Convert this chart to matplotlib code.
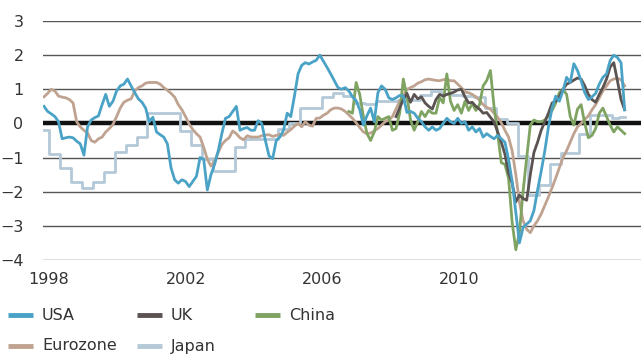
import numpy as np
import matplotlib
matplotlib.use("Agg")
import matplotlib.pyplot as plt
from matplotlib.lines import Line2D

plt.rcParams['font.family'] = ['Liberation Sans Narrow', 'DejaVu Sans']

# Monthly readings, first value = start of 1998
usa = [0.50, 0.35, 0.28, 0.20, 0.05, -0.45, -0.42, -0.40, -0.42, -0.52,
       -0.60, -0.93, -0.10, 0.10, 0.17, 0.22, 0.55, 0.85, 0.50, 0.65,
       0.95, 1.10, 1.15, 1.30, 1.10, 0.90, 0.72, 0.62, 0.45, 0.05,
       0.18, -0.25, -0.33, -0.40, -0.60, -1.30, -1.65, -1.75, -1.65, -1.70,
       -1.85, -1.70, -1.55, -1.00, -1.05, -1.95, -1.50, -1.20, -0.80, -0.30,
       0.15, 0.20, 0.35, 0.50, -0.20, -0.15, -0.12, -0.20, -0.20, 0.08,
       0.00, -0.50, -0.95, -1.03, -0.50, -0.40, -0.20, 0.30, 0.20, 0.80,
       1.45, 1.70, 1.78, 1.74, 1.80, 1.85, 2.00, 1.82, 1.64, 1.45,
       1.25, 1.05, 1.00, 1.05, 0.95, 0.78, 0.67, 0.40, -0.05, 0.23,
       0.45, 0.05, 0.90, 1.10, 1.00, 0.75, 0.70, 0.75, 0.82, 0.80,
       0.32, 0.35, 0.30, 0.15, 0.05, -0.10, -0.20, -0.10, -0.20, -0.15,
       0.00, 0.15, 0.05, 0.00, 0.15, 0.00, 0.05, -0.20, -0.10, -0.25,
       -0.15, -0.40, -0.30, -0.38, -0.45, -0.35, -0.45, -0.55, -1.05, -1.70,
       -2.60, -3.50, -3.05, -2.95, -2.85, -2.55, -1.95, -1.40, -0.80, -0.10,
       0.45, 0.80, 0.65, 0.96, 1.35, 1.20, 1.75, 1.55, 1.25, 0.90,
       0.70, 0.78, 0.88, 1.15, 1.35, 1.45, 1.84, 2.00, 1.93, 1.78,
       0.40]

eurozone = [0.78, 0.88, 1.00, 0.95, 0.80, 0.77, 0.75, 0.70, 0.60, 0.05,
            -0.10, -0.20, -0.28, -0.50, -0.55, -0.45, -0.40, -0.25, -0.15, -0.03,
            0.20, 0.45, 0.62, 0.68, 0.72, 0.95, 1.05, 1.10, 1.18, 1.20,
            1.20, 1.20, 1.15, 1.05, 0.97, 0.88, 0.77, 0.55, 0.40, 0.20,
            -0.02, -0.18, -0.30, -0.40, -0.70, -1.05, -1.25, -1.10, -0.85, -0.62,
            -0.50, -0.42, -0.22, -0.30, -0.42, -0.48, -0.36, -0.40, -0.40, -0.40,
            -0.36, -0.34, -0.33, -0.38, -0.35, -0.32, -0.35, -0.26, -0.18, -0.08,
            0.00, -0.10, 0.05, -0.05, -0.08, 0.15, 0.16, 0.24, 0.30, 0.40,
            0.45, 0.45, 0.42, 0.35, 0.25, 0.15, 0.02, -0.12, -0.25, -0.30,
            -0.28, -0.22, -0.15, -0.05, 0.05, 0.10, 0.20, 0.42, 0.65, 0.80,
            1.00, 1.05, 1.10, 1.18, 1.22, 1.28, 1.30, 1.28, 1.26, 1.25,
            1.28, 1.30, 1.25, 1.25, 1.15, 1.05, 0.92, 0.90, 0.85, 0.78,
            0.68, 0.55, 0.47, 0.42, 0.30, 0.18, 0.02, -0.20, -0.40, -0.80,
            -1.50, -2.30, -2.85, -3.10, -3.20, -3.00, -2.85, -2.65, -2.40, -2.15,
            -1.88, -1.60, -1.30, -1.00, -0.80, -0.55, -0.30, -0.10, 0.00, 0.12,
            0.22, 0.40, 0.55, 0.75, 0.95, 1.10, 1.25, 1.30, 1.32, 1.28,
            1.10]

# quarterly survey, held flat over each quarter
japan = [-0.20, -0.20, -0.90, -0.90, -0.90, -1.30, -1.30, -1.30, -1.72, -1.72,
         -1.72, -1.90, -1.90, -1.90, -1.72, -1.72, -1.72, -1.43, -1.43, -1.43,
         -0.85, -0.85, -0.85, -0.62, -0.62, -0.62, -0.40, -0.40, -0.40, 0.30,
         0.30, 0.30, 0.30, 0.30, 0.30, 0.30, 0.30, 0.30, -0.22, -0.22,
         -0.22, -0.62, -0.62, -0.62, -1.05, -1.05, -1.05, -1.40, -1.40, -1.40,
         -1.40, -1.40, -1.40, -0.70, -0.70, -0.70, -0.45, -0.45, -0.45, -0.45,
         -0.45, -0.45, -0.45, -0.45, -0.45, -0.15, -0.15, -0.15, 0.02, 0.02,
         0.02, 0.44, 0.44, 0.44, 0.44, 0.44, 0.44, 0.76, 0.76, 0.76,
         0.88, 0.88, 0.88, 0.80, 0.80, 0.80, 0.60, 0.60, 0.60, 0.58,
         0.58, 0.58, 0.67, 0.67, 0.67, 0.67, 0.67, 0.67, 0.70, 0.70,
         0.70, 0.70, 0.70, 0.70, 0.82, 0.82, 0.82, 0.95, 0.95, 0.95,
         0.85, 0.85, 0.85, 0.82, 0.82, 0.82, 0.80, 0.80, 0.80, 0.76,
         0.76, 0.76, 0.45, 0.45, 0.45, 0.12, 0.12, 0.12, 0.00, 0.00,
         0.00, -0.95, -0.95, -0.95, -2.10, -2.10, -2.10, -1.80, -1.80, -1.80,
         -1.20, -1.20, -1.20, -0.88, -0.88, -0.88, -0.88, -0.88, -0.30, -0.30,
         -0.30, 0.25, 0.25, 0.25, 0.25, 0.25, 0.25, 0.15, 0.15, 0.20,
         0.20]

# UK and China series begin later (month offsets from Jan 1998)
uk_start = 97
uk = [0.20, 0.45, 0.70,
      0.88, 0.62, 0.85, 0.72, 0.78, 0.60, 0.50, 0.42, 0.70, 0.85,
      0.80, 0.85, 0.88, 0.92, 0.98, 1.00, 0.78, 0.60, 0.62, 0.50,
      0.42, 0.30, 0.32, 0.18, 0.05, -0.25, -0.55, -0.90, -1.45, -1.75,
      -2.30, -2.10, -2.20, -2.25, -1.50, -0.85, -0.55, -0.20, 0.05, 0.30,
      0.60, 0.65, 0.78, 1.00, 1.15, 1.20, 1.27, 1.33, 1.30, 1.10,
      0.85, 0.70, 0.62, 0.85, 1.05, 1.30, 1.65, 1.78, 1.25, 0.70,
      0.40]

china_start = 84
china = [0.35, 0.30, 1.20, 0.85, 0.20, -0.30,
         -0.50, -0.25, 0.20, 0.10, 0.15, 0.20, -0.20, -0.15, 0.30, 1.30,
         0.80, 0.10, -0.20, 0.05, 0.35, 0.20, 0.38, 0.30, 0.30, 0.76,
         0.60, 1.45, 0.65, 0.38, 0.55, 0.30, 0.65, 0.38, 0.58, 0.38,
         0.55, 1.10, 1.26, 1.55, 0.50, -0.30, -1.15, -1.20, -1.60, -2.90,
         -3.70, -3.20, -2.00, -1.00, -0.05, 0.10, 0.05, 0.05, 0.10, 0.22,
         0.38, 0.60, 0.90, 1.00, 0.85, 0.20, -0.05, 0.42, 0.55, 0.00,
         -0.42, -0.35, -0.15, 0.30, 0.45, 0.20, -0.05, -0.25, -0.10, -0.20,
         -0.30]

year_labels = ['1998', '2002', '2006', '2010']
year_pos = [1.4, 39.1, 76.6, 114.3]

names = ['USA', 'UK', 'China', 'Eurozone', 'Japan']
colors = {'USA': '#4aa3c6', 'UK': '#5b5351', 'China': '#7fa462',
          'Eurozone': '#bfa390', 'Japan': '#b4c9d7'}

fig = plt.figure(figsize=(6.41, 3.54), dpi=100)
ax = fig.add_axes([43 / 641, 94 / 354, 598 / 641, 239 / 354])

# horizontal grid
for v in range(-4, 4):
    if v == 0:
        continue
    ax.axhline(v, color='#555555', lw=1.0, zorder=1)
ax.axhline(0, color='#111111', lw=3.2, zorder=2)

lw = 2.0
ax.plot(np.arange(len(japan)), japan, color=colors['Japan'], lw=lw,
        drawstyle='steps-mid', zorder=3)
ax.plot(np.arange(len(eurozone)), eurozone, color=colors['Eurozone'], lw=lw, zorder=4)
ax.plot(china_start + np.arange(len(china)), china, color=colors['China'], lw=lw, zorder=5)
ax.plot(uk_start + np.arange(len(uk)), uk, color=colors['UK'], lw=lw, zorder=6)
ax.plot(np.arange(len(usa)), usa, color=colors['USA'], lw=lw, zorder=7)

ax.set_xlim(-0.28, 164.5)
ax.set_ylim(-4, 3)
ax.set_yticks(range(-4, 4))
ax.set_xticks(year_pos)
ax.set_xticklabels(year_labels)
ax.tick_params(axis='both', length=0, labelsize=11.5, colors='#333333')
ax.tick_params(axis='y', pad=14)
ax.tick_params(axis='x', pad=9)
for s in ax.spines.values():
    s.set_visible(False)

# legend: three columns, two rows
cols_x = [8, 137, 255]
rows_y = [315, 346]
for k, name in enumerate(names):
    r, c = divmod(k, 3)
    x0 = cols_x[c] / 641
    y0 = 1 - rows_y[r] / 354
    fig.add_artist(Line2D([x0, x0 + 25 / 641], [y0, y0], color=colors[name],
                          lw=3.5, transform=fig.transFigure, solid_capstyle='butt'))
    fig.text(x0 + 34 / 641, y0, name, fontsize=11.5, color='#333333',
             va='center', ha='left')

fig.savefig('out.png', dpi=100)
